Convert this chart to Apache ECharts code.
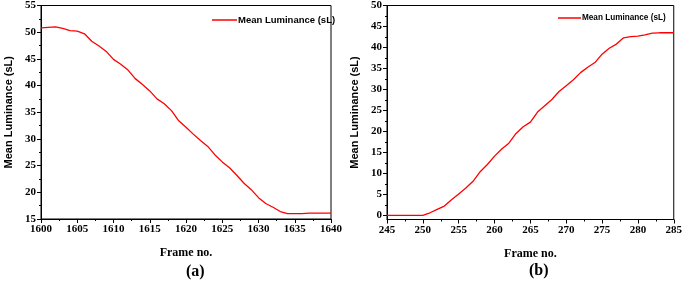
<!DOCTYPE html>
<html>
<head>
<meta charset="utf-8">
<script src="https://cdn.jsdelivr.net/npm/echarts@6/dist/echarts.min.js"></script>
<style>
  html, body { margin: 0; padding: 0; background: #fff; }
  #chart { width: 685px; height: 281px; }
</style>
</head>
<body>
<div id="chart"></div>
<script>
// panel (a): frames 1600-1640, luminance falling
const framesA = [
  1600, 1601, 1602, 1603, 1604, 1605, 1606, 1607, 1608, 1609,
  1610, 1611, 1612, 1613, 1614, 1615, 1616, 1617, 1618, 1619,
  1620, 1621, 1622, 1623, 1624, 1625, 1626, 1627, 1628, 1629,
  1630, 1631, 1632, 1633, 1634, 1635, 1636, 1637, 1638, 1639, 1640,
];
const luminanceA = [
  50.8, 50.9, 51.0, 50.7, 50.3, 50.2, 49.7, 48.3, 47.4, 46.4,
  44.9, 44.0, 42.9, 41.3, 40.2, 39.0, 37.5, 36.6, 35.3, 33.4,
  32.2, 30.9, 29.7, 28.6, 27.0, 25.7, 24.6, 23.2, 21.7, 20.5,
  19.0, 17.9, 17.2, 16.4, 16.0, 16.0, 16.0, 16.1, 16.1, 16.1, 16.1,
];

// panel (b): frames 245-285, luminance rising
const framesB = [
  245, 246, 247, 248, 249, 250, 251, 252, 253, 254,
  255, 256, 257, 258, 259, 260, 261, 262, 263, 264,
  265, 266, 267, 268, 269, 270, 271, 272, 273, 274,
  275, 276, 277, 278, 279, 280, 281, 282, 283, 284, 285,
];
const luminanceB = [
  0, 0, 0, 0, 0, 0, 0.6, 1.4, 2.2, 3.7,
  5.1, 6.5, 8.1, 10.4, 12.1, 14.1, 15.8, 17.2, 19.5, 21.1,
  22.2, 24.6, 26.1, 27.6, 29.5, 30.9, 32.3, 34.0, 35.3, 36.4,
  38.4, 39.8, 40.8, 42.3, 42.6, 42.7, 43.0, 43.4, 43.5, 43.5, 43.5,
];

const yTicksB = [0, 5, 10, 15, 20, 25, 30, 35, 40, 45, 50];
const yMinorTicksB = [2.5, 7.5, 12.5, 17.5, 22.5, 27.5, 32.5, 37.5, 42.5, 47.5];

const SERIES_NAME = "Mean Luminance (sL)";
const SERIF = "'Liberation Serif', 'Times New Roman', serif";
const SANS = "'Liberation Sans', Arial, sans-serif";

function pairs(xs, ys) {
  return xs.map((x, i) => [x, ys[i]]);
}

function plainNumber(value) {
  return String(value);
}

function xAxisFor(gridIndex, min, max) {
  return {
    type: "value",
    gridIndex,
    min,
    max,
    interval: 5,
    name: "Frame no.",
    nameLocation: "middle",
    nameGap: 28,
    nameTextStyle: { fontFamily: SERIF, fontWeight: "bold", fontSize: 12, color: "#000" },
    axisLine: { show: true, onZero: false, lineStyle: { color: "#000", width: 1 } },
    axisTick: { show: true, inside: false, length: 4, lineStyle: { color: "#000" } },
    minorTick: { show: true, splitNumber: 2, length: 2, lineStyle: { color: "#000" } },
    axisLabel: {
      fontFamily: SERIF, fontWeight: "bold", fontSize: 11, color: "#000", margin: 5,
      formatter: plainNumber,
    },
    splitLine: { show: false },
  };
}

function yNameStyle() {
  return { fontFamily: SANS, fontWeight: "bold", fontSize: 11, color: "#000" };
}

const chart = echarts.init(document.getElementById("chart"));

chart.setOption({
  animation: false,
  grid: [
    { left: 41, top: 5, width: 290, height: 214, show: true, borderColor: "#000", borderWidth: 1 },
    { left: 387, top: 4.5, width: 289, height: 215, show: true, borderColor: "#000", borderWidth: 1 },
  ],
  legend: [
    {
      data: [SERIES_NAME],
      left: 207,
      top: 10,
      icon: "rect",
      itemWidth: 25,
      itemHeight: 1.5,
      textStyle: { fontFamily: SANS, fontWeight: "bold", fontSize: 9.5, color: "#000", padding: [0, 0, 0, -4] },
      selectedMode: false,
    },
    {
      data: [SERIES_NAME + " "],
      left: 553,
      top: 9,
      icon: "rect",
      itemWidth: 23,
      itemHeight: 1.5,
      formatter: () => SERIES_NAME,
      textStyle: { fontFamily: SANS, fontWeight: "bold", fontSize: 8.2, color: "#000", padding: [0, 0, 0, -4] },
      selectedMode: false,
    },
  ],
  xAxis: [xAxisFor(0, 1600, 1640), xAxisFor(1, 245, 285)],
  yAxis: [
    {
      type: "value",
      gridIndex: 0,
      min: 15,
      max: 55,
      interval: 5,
      name: SERIES_NAME,
      nameLocation: "middle",
      nameGap: 27,
      nameTextStyle: yNameStyle(),
      axisLine: { show: true, onZero: false, lineStyle: { color: "#000", width: 1 } },
      axisTick: { show: true, inside: false, length: 4, lineStyle: { color: "#000" } },
      minorTick: { show: true, splitNumber: 2, length: 2, lineStyle: { color: "#000" } },
      axisLabel: { fontFamily: SERIF, fontWeight: "bold", fontSize: 11, color: "#000", margin: 5 },
      splitLine: { show: false },
    },
    {
      type: "value",
      gridIndex: 1,
      min: -1,
      max: 50,
      name: SERIES_NAME,
      nameLocation: "middle",
      nameGap: 27,
      nameTextStyle: yNameStyle(),
      axisLine: { show: true, onZero: false, lineStyle: { color: "#000", width: 1 } },
      axisTick: { show: true, inside: false, length: 4, customValues: yTicksB, lineStyle: { color: "#000" } },
      axisLabel: {
        fontFamily: SERIF, fontWeight: "bold", fontSize: 11, color: "#000", margin: 5,
        customValues: yTicksB,
      },
      splitLine: { show: false },
    },
    {
      // minor ticks only for panel (b)
      type: "value",
      gridIndex: 1,
      min: -1,
      max: 50,
      position: "left",
      axisLine: { show: false },
      axisTick: { show: true, inside: false, length: 2, customValues: yMinorTicksB, lineStyle: { color: "#000" } },
      axisLabel: { show: false, customValues: yMinorTicksB },
      splitLine: { show: false },
    },
  ],
  series: [
    {
      name: SERIES_NAME,
      type: "line",
      xAxisIndex: 0,
      yAxisIndex: 0,
      data: pairs(framesA, luminanceA),
      showSymbol: false,
      color: "#ff0000",
      lineStyle: { width: 1.3, color: "#ff0000" },
    },
    {
      name: SERIES_NAME + " ",
      type: "line",
      xAxisIndex: 1,
      yAxisIndex: 1,
      data: pairs(framesB, luminanceB),
      showSymbol: false,
      color: "#ff0000",
      lineStyle: { width: 1.3, color: "#ff0000" },
    },
  ],
  graphic: [
    {
      type: "text",
      left: 186,
      top: 264,
      style: { text: "(a)", font: "bold 16px " + SERIF, fill: "#000" },
    },
    {
      type: "text",
      left: 529,
      top: 263,
      style: { text: "(b)", font: "bold 16px " + SERIF, fill: "#000" },
    },
  ],
});
</script>
</body>
</html>
